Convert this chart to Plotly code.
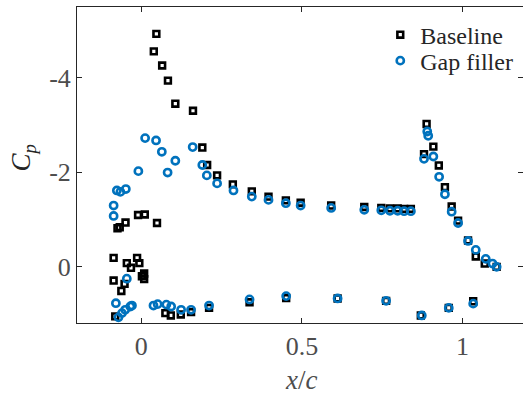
import plotly.graph_objects as go

# Baseline (black squares)
base_x = [0.047, 0.039, 0.065, 0.083, 0.106, 0.161, 0.19, 0.205, 0.236, 0.285,
          0.344, 0.396, 0.45, 0.496, 0.591, 0.694, 0.747, 0.774, 0.798, 0.818, 0.839,
          0.888, 0.88, 0.909, 0.926, 0.945, 0.966, 0.986, 1.017, 1.041, 1.069, 1.106,
          -0.01, 0.011, 0.049, -0.049, -0.067, -0.074,
          -0.086, -0.045, -0.032, -0.013, -0.006, 0.009, 0.002, 0.009,
          -0.086, -0.052, -0.062, -0.081,
          0.075, 0.092, 0.123, 0.155, 0.211, 0.337, 0.451, 0.611, 0.762, 0.870, 0.957, 1.033]
base_y = [-4.93, -4.56, -4.26, -3.94, -3.45, -3.30, -2.52, -2.15, -1.93, -1.74,
          -1.59, -1.48, -1.40, -1.35, -1.29, -1.26, -1.24, -1.23, -1.23, -1.22, -1.22,
          -3.02, -2.38, -2.54, -2.14, -1.68, -1.27, -0.97, -0.55, -0.21, -0.06, 0.01,
          -1.09, -1.10, -0.92, -0.93, -0.83, -0.81,
          -0.18, -0.07, 0.03, -0.18, -0.07, 0.15, 0.21, 0.27,
          0.30, 0.37, 0.52, 1.06,
          0.99, 1.04, 1.02, 0.97, 0.88, 0.76, 0.67, 0.68, 0.73, 1.04, 0.88, 0.74]

# Gap filler (blue circles)
gap_x = [0.012, 0.046, 0.064, 0.106, 0.082, -0.009, 0.16, 0.19, 0.204, 0.236,
         0.287, 0.344, 0.396, 0.45, 0.496, 0.591, 0.694, 0.747, 0.774, 0.798, 0.818, 0.839,
         -0.076, -0.065, -0.048, -0.086, -0.086,
         0.89, 0.893, 0.88, 0.909, 0.927, 0.945, 0.966, 0.986, 1.017, 1.041, 1.072, 1.093, 1.106,
         -0.045, -0.079, -0.071, -0.06, -0.05, -0.034, -0.029,
         0.038, 0.051, 0.078, 0.093, 0.124, 0.155, 0.211,
         0.337, 0.451, 0.611, 0.762, 0.873, 0.957, 1.033]
gap_y = [-2.72, -2.67, -2.43, -2.24, -1.99, -2.02, -2.53, -2.15, -1.93, -1.76,
         -1.61, -1.48, -1.41, -1.34, -1.29, -1.24, -1.20, -1.19, -1.18, -1.18, -1.17, -1.17,
         -1.61, -1.58, -1.64, -1.29, -1.07,
         -2.86, -2.77, -2.28, -2.33, -1.90, -1.53, -1.16, -0.92, -0.54, -0.35, -0.16, -0.06, 0.01,
         0.26, 0.78, 1.08, 0.99, 0.92, 0.85, 0.83,
         0.83, 0.80, 0.81, 0.85, 0.92, 0.92, 0.83,
         0.70, 0.63, 0.68, 0.73, 1.04, 0.88, 0.79]

x_ticks = [0, 0.5, 1]
x_ticktext = ["0", "0.5", "1"]
y_ticks = [-4, -2, 0]
y_ticktext = ["-4", "-2", "0"]

FONT = "Liberation Serif, Tinos, Times New Roman, DejaVu Serif, serif"
AX = "#262626"
TK = "#4d4d4d"

fig = go.Figure()
fig.add_trace(go.Scatter(
    x=base_x, y=base_y, mode="markers", name="Baseline", legend="legend",
    marker=dict(symbol="square-open", size=5.8, color="black", line=dict(width=2.6, color="black")),
))
fig.add_trace(go.Scatter(
    x=gap_x, y=gap_y, mode="markers", name="Gap filler", legend="legend2",
    marker=dict(symbol="circle-open", size=7.2, color="#0072BD", line=dict(width=2.6, color="#0072BD")),
))
# invisible trace to carry right-side tick marks
fig.add_trace(go.Scatter(x=[None], y=[None], yaxis="y2", showlegend=False, hoverinfo="skip"))

leg_common = dict(xanchor="left", yanchor="middle",
                  font=dict(family=FONT, size=24, color=AX),
                  bgcolor="rgba(0,0,0,0)", borderwidth=0, itemwidth=30)

fig.update_layout(
    width=523, height=395,
    margin=dict(l=77, r=0, t=7, b=72, autoexpand=False),
    paper_bgcolor="white", plot_bgcolor="white",
    font=dict(family=FONT, color=TK),
    showlegend=True,
    legend=dict(x=0.68, y=0.911, **leg_common),
    legend2=dict(x=0.68, y=0.829, **leg_common),
    xaxis=dict(
        range=[-0.2, 1.188], tickvals=x_ticks, ticktext=x_ticktext,
        ticks="inside", ticklen=5, tickcolor=AX, tickwidth=1,
        showline=True, linecolor=AX, linewidth=1, mirror="ticks",
        showgrid=False, zeroline=False, automargin=False,
        tickfont=dict(family=FONT, size=26, color=TK),
    ),
    yaxis=dict(
        range=[1.2, -5.5], tickvals=y_ticks, ticktext=y_ticktext,
        ticks="inside", ticklen=5, tickcolor=AX, tickwidth=1,
        showline=True, linecolor=AX, linewidth=1,
        showgrid=False, zeroline=False, automargin=False,
        tickfont=dict(family=FONT, size=26, color=TK),
    ),
    yaxis2=dict(
        overlaying="y", side="right", range=[1.2, -5.5], tickvals=y_ticks,
        showticklabels=False, ticks="inside", ticklen=5, tickcolor=AX,
        showline=False, showgrid=False, zeroline=False, automargin=False,
    ),
    annotations=[
        dict(text="<i>x</i>/<i>c</i>", xref="paper", yref="paper", x=0.5037, y=-0.18,
             xanchor="center", yanchor="middle", showarrow=False,
             font=dict(family=FONT, size=27, color=TK)),
        dict(text="<i>C</i><sub><i>p</i></sub>", xref="paper", yref="paper", x=-0.12, y=0.522,
             xanchor="center", yanchor="middle", textangle=-90, showarrow=False,
             font=dict(family=FONT, size=27, color=AX)),
    ],
)

fig.write_html(
    "out.html",
    config={"displayModeBar": False},
    post_script="document.body.style.margin='0';document.body.style.overflow='hidden';",
)
